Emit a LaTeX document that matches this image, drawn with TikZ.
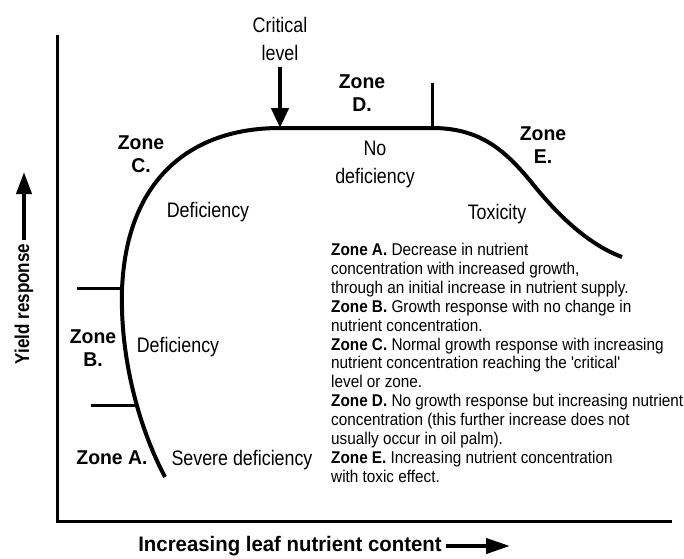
\documentclass[tikz,border=0pt]{standalone}
\usepackage{fontspec}
\setmainfont{Liberation Sans}[FakeStretch=0.85]
\newfontfamily\widefont{Liberation Sans}[FakeStretch=0.97]
\newfontfamily\notefont{Liberation Sans}[FakeStretch=0.9]
\usetikzlibrary{arrows.meta, positioning}

\begin{document}
\begin{tikzpicture}[x=1pt, y=-1pt,
  lbl/.style={font=\fontsize{21}{28}\selectfont, align=center, inner sep=0pt},
  zonelbl/.style={font=\widefont\fontsize{20}{23}\selectfont\bfseries, align=center, inner sep=0pt},
  axislbl/.style={font=\fontsize{20}{22}\selectfont\bfseries, inner sep=4pt},
  note/.style={font=\notefont\fontsize{17}{18.9}\selectfont, align=left, anchor=north west, inner sep=0pt}]

  \useasboundingbox (0,0) rectangle (684,558);

  % Axes
  \draw[line width=3pt] (57,35) -- (57,521) -- (672,521);

  % Response curve
  \draw[line width=4pt]
    (165,477) .. controls (140,430) and (120,360) .. (122,290)
    .. controls (126,180) and (190,128) .. (280,128) -- (432,128)
    .. controls (480,128) and (505,150) .. (532,183)
    .. controls (560,218) and (590,245) .. (622,257);

  % Zone limits
  \draw[line width=3pt] (77,288) -- (122,288);
  \draw[line width=3pt] (91,405) -- (135,405);
  \draw[line width=3pt] (432,83) -- (432,128);

  % Critical level
  \node[lbl] (crit) at (280,39) {Critical\\level};
  \coordinate (critpt) at (280,128);
  \draw[line width=4.5pt, -{Triangle[length=20pt, width=17pt]}] (crit.south) ++(0,6) -- (critpt);

  % Zone labels
  \node[zonelbl] (zA) at (112,458) {Zone A.};
  \node[zonelbl] (zB) at (93,348) {Zone\\B.};
  \node[zonelbl] (zC) at (141,154) {Zone\\C.};
  \node[zonelbl] (zD) at (362,93) {Zone\\D.};
  \node[zonelbl] (zE) at (543,145) {Zone\\E.};

  % Response labels
  \node[lbl] (sev) at (242,460) {Severe deficiency};
  \node[lbl] (defB) at (178,347) {Deficiency};
  \node[lbl] (defC) at (208,212) {Deficiency};
  \node[lbl] (nodef) at (375,164) {No\\deficiency};
  \node[lbl] (tox) at (497,214) {Toxicity};

  % Notes
  \node[note] (notes) at (331,243) {%
    \textbf{Zone A.} Decrease in nutrient\\
    concentration with increased growth,\\
    through an initial increase in nutrient supply.\\
    \textbf{Zone B.} Growth response with no change in\\
    nutrient concentration.\\
    \textbf{Zone C.} Normal growth response with increasing\\
    nutrient concentration reaching the 'critical'\\
    level or zone.\\
    \textbf{Zone D.} No growth response but increasing nutrient\\
    concentration (this further increase does not\\
    usually occur in oil palm).\\
    \textbf{Zone E.} Increasing nutrient concentration\\
    with toxic effect.};

  % Axis labels
  \node[axislbl, rotate=90] (ylbl) at (24,304) {Yield response};
  \coordinate (ytip) at (24,172);
  \draw[line width=4pt, -{Triangle[length=22pt, width=15pt]}] (ylbl.east) -- (ytip);

  \node[axislbl, font=\widefont\fontsize{21}{22}\selectfont\bfseries] (xlbl) at (290,546) {Increasing leaf nutrient content};
  \coordinate (xtip) at (510,546);
  \draw[line width=4pt, -{Triangle[length=24pt, width=15pt]}] (xlbl.east) -- (xtip);

\end{tikzpicture}
\end{document}
